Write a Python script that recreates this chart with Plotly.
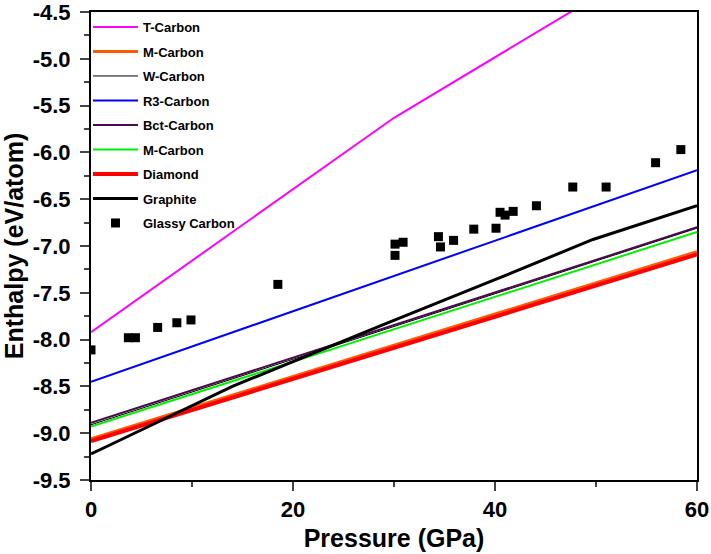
import plotly.graph_objects as go

# Pressure (GPa) / Enthalpy (eV/atom)
t_carbon_p = [0, 30, 60]
t_carbon_h = [-7.92, -5.63, -3.69]
m_carbon_orange_p = [0, 60]
m_carbon_orange_h = [-9.06, -7.06]
w_carbon_p = [0, 60]
w_carbon_h = [-8.91, -6.81]
r3_carbon_p = [0, 60]
r3_carbon_h = [-8.45, -6.19]
bct_carbon_p = [0, 60]
bct_carbon_h = [-8.89, -6.80]
m_carbon_green_p = [0, 60]
m_carbon_green_h = [-8.93, -6.85]
diamond_p = [0, 60]
diamond_h = [-9.085, -7.09]
graphite_p = [0, 1.4, 14, 28.7, 40, 49.7, 60]
graphite_h = [-9.22, -9.15, -8.50, -7.85, -7.36, -6.93, -6.57]
glassy_p = [0, 3.7, 4.4, 6.6, 8.5, 9.9, 18.5, 30.1, 30.9, 30.1, 34.4, 34.6, 35.9,
            37.9, 40.1, 40.5, 41.0, 41.8, 44.1, 47.7, 51.0, 55.9, 58.4]
glassy_h = [-8.11, -7.98, -7.98, -7.87, -7.82, -7.79, -7.41, -6.98, -6.96, -7.10, -6.90,
            -7.01, -6.94, -6.82, -6.81, -6.64, -6.67, -6.63, -6.57, -6.37, -6.37, -6.11, -5.97]

x_tickvals = [0, 20, 40, 60]
x_ticktext = ["0", "20", "40", "60"]
y_tickvals = [-9.5, -9.0, -8.5, -8.0, -7.5, -7.0, -6.5, -6.0, -5.5, -5.0, -4.5]
y_ticktext = ["-9.5", "-9.0", "-8.5", "-8.0", "-7.5", "-7.0", "-6.5", "-6.0", "-5.5", "-5.0", "-4.5"]

FONT = "Liberation Sans, Arial"
fig = go.Figure()

def add_line(x, y, name, color, width, grp):
    fig.add_trace(go.Scatter(x=x, y=y, mode="lines", name=name, legendgroup=grp,
                             line=dict(color=color, width=width)))

add_line(t_carbon_p, t_carbon_h, "T-Carbon", "#ff00ff", 2, "g1")
add_line(m_carbon_orange_p, m_carbon_orange_h, "M-Carbon", "#ff5a00", 3, "g2")
add_line(w_carbon_p, w_carbon_h, "W-Carbon", "#000000", 1, "g3")
add_line(r3_carbon_p, r3_carbon_h, "R3-Carbon", "#0000ff", 2, "g4")
add_line(bct_carbon_p, bct_carbon_h, "Bct-Carbon", "#4b0a4b", 2, "g5")
add_line(m_carbon_green_p, m_carbon_green_h, "M-Carbon", "#00ee00", 2, "g6")
add_line(diamond_p, diamond_h, "Diamond", "#ff0000", 4, "g7")
add_line(graphite_p, graphite_h, "Graphite", "#000000", 3, "g8")
fig.add_trace(go.Scatter(x=glassy_p, y=glassy_h, mode="markers", name="Glassy Carbon",
                         legendgroup="g9",
                         marker=dict(symbol="square", size=9, color="#000000")))

fig.update_layout(
    width=711, height=554,
    margin=dict(l=91, r=14, t=12, b=74),
    paper_bgcolor="white", plot_bgcolor="white",
    font=dict(family=FONT, color="black"),
    showlegend=True,
    legend=dict(x=-0.005, y=1.0, xanchor="left", yanchor="top",
                bgcolor="rgba(0,0,0,0)", borderwidth=0,
                font=dict(family=FONT, size=13, color="black", weight="bold"),
                tracegroupgap=4.6, itemwidth=45),
    xaxis=dict(range=[0, 60], tickvals=x_tickvals, ticktext=x_ticktext, automargin=False,
               ticks="outside", ticklen=9, tickwidth=2, showline=True, linewidth=2,
               linecolor="black", mirror=True, showgrid=False, zeroline=False,
               ticklabeloverflow="allow",
               minor=dict(ticks="outside", ticklen=5, tickwidth=2, dtick=10, showgrid=False),
               tickfont=dict(family=FONT, size=22, color="black", weight="bold"),
               title=dict(text="Pressure (GPa)", standoff=8,
                          font=dict(family=FONT, size=25, color="black", weight="bold"))),
    yaxis=dict(range=[-9.5, -4.5], tickvals=y_tickvals, ticktext=y_ticktext, automargin=False,
               ticks="outside", ticklen=9, tickwidth=2, showline=True, linewidth=2,
               linecolor="black", mirror=True, showgrid=False, zeroline=False,
               ticklabelstandoff=5, ticklabeloverflow="allow",
               minor=dict(ticks="outside", ticklen=5, tickwidth=2, dtick=0.25, showgrid=False),
               tickfont=dict(family=FONT, size=22, color="black", weight="bold"),
               title=dict(text="Enthalpy (eV/atom)", standoff=7,
                          font=dict(family=FONT, size=25, color="black", weight="bold"))),
)

fig.write_html("out.html", config={"displayModeBar": False},
               post_script="document.body.style.margin='0';document.body.style.padding='0';")
